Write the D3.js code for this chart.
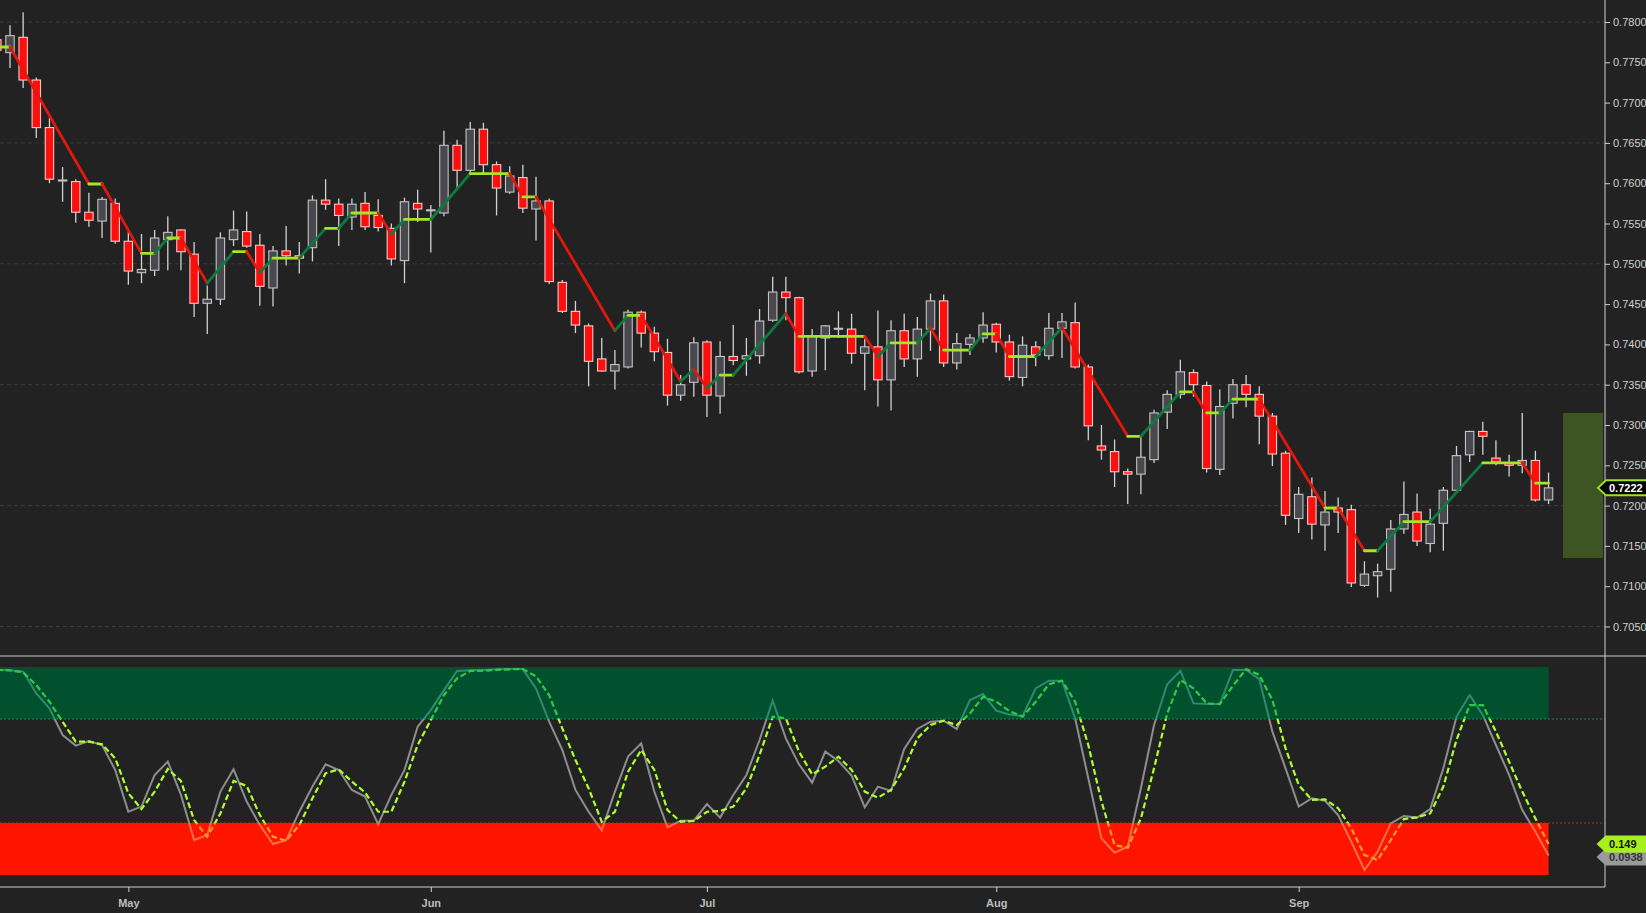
<!DOCTYPE html>
<html><head><meta charset="utf-8">
<script src="https://cdn.jsdelivr.net/npm/d3@7/dist/d3.min.js"></script>
<style>html,body{margin:0;padding:0;background:#222;overflow:hidden}svg{display:block}</style>
</head><body>
<svg id="c" width="1646" height="913"></svg>
<script>
// ---------------- DATA ----------------
const startDate = "2018-04-17";
const endDate = "2018-09-28";
const open  = [0.7778,0.7762,0.7781,0.7728,0.7669,0.7603,0.7602,0.7564,0.7553,0.7575,0.7528,0.7489,0.7492,0.7530,0.7542,0.7512,0.7451,0.7456,0.7530,0.7540,0.7523,0.7470,0.7516,0.7510,0.7520,0.7579,0.7574,0.7558,0.7575,0.7560,0.7544,0.7504,0.7575,0.7566,0.7563,0.7647,0.7616,0.7667,0.7623,0.7589,0.7607,0.7568,0.7578,0.7477,0.7441,0.7423,0.7382,0.7367,0.7372,0.7440,0.7414,0.7390,0.7337,0.7353,0.7403,0.7336,0.7385,0.7382,0.7386,0.7430,0.7465,0.7458,0.7367,0.7408,0.7419,0.7419,0.7389,0.7397,0.7356,0.7417,0.7382,0.7419,0.7454,0.7377,0.7400,0.7408,0.7425,0.7403,0.7359,0.7397,0.7386,0.7420,0.7427,0.7372,0.7274,0.7267,0.7242,0.7239,0.7257,0.7316,0.7338,0.7365,0.7349,0.7245,0.7327,0.7350,0.7338,0.7311,0.7265,0.7184,0.7211,0.7176,0.7197,0.7195,0.7101,0.7113,0.7121,0.7171,0.7192,0.7153,0.7178,0.7219,0.7263,0.7292,0.7259,0.7253,0.7250,0.7256,0.7207];
const high  = [0.7786,0.7796,0.7812,0.7731,0.7681,0.7620,0.7605,0.7588,0.7583,0.7581,0.7540,0.7537,0.7542,0.7559,0.7543,0.7527,0.7473,0.7539,0.7566,0.7565,0.7537,0.7522,0.7547,0.7527,0.7585,0.7605,0.7581,0.7581,0.7589,0.7580,0.7550,0.7582,0.7592,0.7573,0.7665,0.7654,0.7676,0.7675,0.7627,0.7621,0.7623,0.7608,0.7581,0.7480,0.7454,0.7426,0.7408,0.7393,0.7443,0.7442,0.7422,0.7407,0.7362,0.7409,0.7405,0.7404,0.7424,0.7408,0.7444,0.7484,0.7484,0.7459,0.7419,0.7424,0.7441,0.7438,0.7407,0.7442,0.7430,0.7438,0.7434,0.7463,0.7462,0.7414,0.7413,0.7440,0.7427,0.7412,0.7410,0.7404,0.7439,0.7439,0.7452,0.7375,0.7300,0.7282,0.7246,0.7285,0.7319,0.7343,0.7381,0.7369,0.7354,0.7344,0.7357,0.7362,0.7348,0.7315,0.7268,0.7223,0.7235,0.7218,0.7210,0.7201,0.7131,0.7128,0.7182,0.7230,0.7215,0.7196,0.7223,0.7274,0.7293,0.7304,0.7281,0.7263,0.7315,0.7268,0.7241];
const low   = [0.7755,0.7743,0.7718,0.7656,0.7600,0.7577,0.7551,0.7546,0.7532,0.7525,0.7474,0.7476,0.7485,0.7492,0.7492,0.7434,0.7413,0.7449,0.7522,0.7520,0.7448,0.7447,0.7498,0.7488,0.7503,0.7567,0.7522,0.7542,0.7542,0.7540,0.7498,0.7476,0.7552,0.7514,0.7559,0.7594,0.7612,0.7612,0.7560,0.7587,0.7563,0.7529,0.7475,0.7439,0.7414,0.7348,0.7366,0.7344,0.7370,0.7396,0.7379,0.7324,0.7330,0.7335,0.7310,0.7314,0.7374,0.7361,0.7376,0.7428,0.7430,0.7364,0.7360,0.7368,0.7408,0.7376,0.7343,0.7323,0.7318,0.7372,0.7360,0.7392,0.7372,0.7369,0.7387,0.7402,0.7390,0.7355,0.7348,0.7373,0.7381,0.7383,0.7370,0.7281,0.7257,0.7223,0.7202,0.7214,0.7253,0.7295,0.7333,0.7335,0.7241,0.7238,0.7308,0.7322,0.7276,0.7249,0.7176,0.7166,0.7158,0.7144,0.7166,0.7099,0.7099,0.7086,0.7093,0.7165,0.7150,0.7142,0.7144,0.7218,0.7254,0.7263,0.7250,0.7236,0.7240,0.7205,0.7202];
const close = [0.7765,0.7783,0.7728,0.7669,0.7605,0.7604,0.7564,0.7554,0.7580,0.7528,0.7491,0.7493,0.7532,0.7539,0.7515,0.7451,0.7456,0.7532,0.7542,0.7522,0.7472,0.7516,0.7510,0.7507,0.7579,0.7574,0.7560,0.7574,0.7546,0.7545,0.7506,0.7577,0.7568,0.7567,0.7647,0.7616,0.7667,0.7623,0.7594,0.7609,0.7569,0.7578,0.7478,0.7441,0.7424,0.7379,0.7367,0.7375,0.7440,0.7414,0.7391,0.7337,0.7350,0.7402,0.7337,0.7385,0.7380,0.7386,0.7429,0.7465,0.7458,0.7366,0.7410,0.7423,0.7420,0.7389,0.7397,0.7356,0.7417,0.7382,0.7419,0.7454,0.7377,0.7401,0.7408,0.7424,0.7403,0.7360,0.7399,0.7387,0.7420,0.7428,0.7372,0.7299,0.7269,0.7242,0.7239,0.7260,0.7315,0.7338,0.7366,0.7350,0.7246,0.7323,0.7350,0.7338,0.7311,0.7264,0.7188,0.7214,0.7177,0.7192,0.7192,0.7104,0.7115,0.7118,0.7171,0.7189,0.7156,0.7177,0.7219,0.7262,0.7292,0.7286,0.7254,0.7250,0.7256,0.7207,0.7222];
const stochK = [0.986,0.984,0.978,0.873,0.801,0.673,0.622,0.644,0.625,0.505,0.304,0.329,0.481,0.545,0.385,0.168,0.192,0.401,0.508,0.353,0.240,0.149,0.168,0.304,0.425,0.532,0.505,0.409,0.377,0.244,0.385,0.505,0.713,0.793,0.889,0.981,0.984,0.986,0.989,0.990,0.990,0.897,0.737,0.601,0.409,0.304,0.215,0.401,0.569,0.633,0.401,0.229,0.261,0.261,0.341,0.276,0.385,0.481,0.649,0.838,0.657,0.532,0.444,0.593,0.548,0.478,0.325,0.425,0.404,0.606,0.702,0.737,0.742,0.702,0.841,0.870,0.790,0.772,0.764,0.897,0.934,0.934,0.753,0.465,0.176,0.107,0.136,0.417,0.721,0.917,0.982,0.825,0.822,0.822,0.986,0.986,0.942,0.689,0.513,0.329,0.369,0.357,0.288,0.160,0.024,0.112,0.248,0.284,0.276,0.317,0.513,0.761,0.865,0.769,0.625,0.481,0.312,0.208,0.0938];
const stochD = [0.986,0.984,0.974,0.913,0.833,0.737,0.641,0.641,0.628,0.561,0.393,0.317,0.401,0.510,0.452,0.264,0.184,0.296,0.452,0.428,0.288,0.184,0.165,0.240,0.369,0.489,0.508,0.449,0.397,0.304,0.304,0.449,0.625,0.745,0.865,0.946,0.981,0.982,0.986,0.989,0.990,0.955,0.865,0.705,0.553,0.417,0.256,0.304,0.497,0.601,0.505,0.312,0.256,0.260,0.304,0.308,0.329,0.417,0.577,0.761,0.753,0.593,0.484,0.521,0.569,0.505,0.401,0.372,0.409,0.513,0.657,0.721,0.742,0.721,0.777,0.857,0.833,0.788,0.761,0.833,0.917,0.934,0.833,0.625,0.353,0.144,0.131,0.272,0.513,0.777,0.938,0.897,0.825,0.822,0.910,0.990,0.962,0.841,0.609,0.433,0.361,0.364,0.321,0.224,0.096,0.072,0.168,0.269,0.277,0.296,0.425,0.649,0.817,0.817,0.689,0.545,0.401,0.272,0.149];
const trendBar = [0,1,7,8,11,12,13,14,16,18,19,20,21,23,25,26,27,29,30,31,33,36,39,40,41,47,48,49,52,53,54,55,56,60,61,66,67,68,70,71,72,74,75,76,77,79,81,86,87,90,91,92,93,94,96,101,102,104,105,107,109,113,116,117,118];
const trendVal = [0.7769,0.7769,0.7599,0.7599,0.7513,0.7513,0.7532,0.7532,0.7476,0.7515,0.7515,0.7489,0.7507,0.7507,0.7544,0.7544,0.7563,0.7563,0.7537,0.7555,0.7555,0.7612,0.7612,0.7583,0.7583,0.7417,0.7436,0.7436,0.7354,0.7369,0.7346,0.7362,0.7362,0.7438,0.7410,0.7410,0.7385,0.7402,0.7402,0.7420,0.7393,0.7393,0.7413,0.7413,0.7385,0.7385,0.7421,0.7286,0.7286,0.7341,0.7341,0.7315,0.7315,0.7332,0.7332,0.7197,0.7197,0.7144,0.7144,0.7180,0.7180,0.7253,0.7253,0.7228,0.7228];
const priceTicks = [0.705,0.710,0.715,0.720,0.725,0.730,0.735,0.740,0.745,0.750,0.755,0.760,0.765,0.770,0.775,0.780];
const gridPrices = [0.705,0.720,0.735,0.750,0.765,0.780];
const stochLevels = [0.25, 0.75];
const rangeBox = [0.7135, 0.7315];

// ---------------- SETUP ----------------
const W = 1646, H = 913, AX = 1605, SEP = 656, BOT = 887;
const svg = d3.select("#c");
const dates = d3.timeDay.range(d3.timeParse("%Y-%m-%d")(startDate), d3.timeDay.offset(d3.timeParse("%Y-%m-%d")(endDate), 1)).filter(d => d.getDay() !== 0 && d.getDay() !== 6);
const n = close.length;
const last = n - 1;

const x = d3.scaleLinear().domain([1, last]).range([10, 10 + (last - 1) * 13.15]);
const yP = d3.scaleLinear().domain([0.705, 0.780]).range([626.5, 22]);
const yI = d3.scaleLinear().domain([0, 1]).range([875, 667]);

svg.append("rect").attr("width", W).attr("height", H).attr("fill", "#222");

const defs = svg.append("defs");
defs.append("clipPath").attr("id", "cp").append("rect").attr("x", 0).attr("y", 0).attr("width", AX).attr("height", SEP);
defs.append("clipPath").attr("id", "ci").append("rect").attr("x", 0).attr("y", SEP + 1).attr("width", AX).attr("height", BOT - SEP - 1);
const zoneClips = [
  {id: "zTop", y0: SEP, y1: yI(stochLevels[1])},
  {id: "zMid", y0: yI(stochLevels[1]), y1: yI(stochLevels[0])},
  {id: "zBot", y0: yI(stochLevels[0]), y1: BOT}
];
zoneClips.forEach(z => defs.append("clipPath").attr("id", z.id).append("rect").attr("x", 0).attr("y", z.y0).attr("width", AX).attr("height", z.y1 - z.y0));

// ---------------- PRICE PANEL ----------------
const gp = svg.append("g").attr("clip-path", "url(#cp)");
gp.selectAll("line.grid").data(gridPrices).join("line")
  .attr("x1", 0).attr("x2", AX).attr("y1", d => yP(d)).attr("y2", d => yP(d))
  .attr("stroke", "#3a3a3a").attr("stroke-width", 1).attr("stroke-dasharray", "4,3");

gp.append("rect").attr("x", 1563).attr("width", 40)
  .attr("y", yP(rangeBox[1])).attr("height", yP(rangeBox[0]) - yP(rangeBox[1]))
  .attr("fill", "#3c5522");

const idx = d3.range(n);
const bw = 8.4;
gp.selectAll("line.wick").data(idx).join("line")
  .attr("x1", i => x(i)).attr("x2", i => x(i))
  .attr("y1", i => yP(high[i])).attr("y2", i => yP(low[i]))
  .attr("stroke", "#d2d2d2").attr("stroke-width", 1.3);
gp.selectAll("rect.body").data(idx).join("rect")
  .attr("x", i => x(i) - bw / 2).attr("width", bw)
  .attr("y", i => yP(Math.max(open[i], close[i])))
  .attr("height", i => Math.max(1, Math.abs(yP(open[i]) - yP(close[i]))))
  .attr("fill", i => close[i] < open[i] ? "#ff0e0e" : "#48484e")
  .attr("stroke", i => close[i] < open[i] ? "#f4c8c8" : "#c4c4c4")
  .attr("stroke-width", 1.1);

const segs = d3.range(trendBar.length - 1).map(j => ({a: j, b: j + 1}));
gp.selectAll("line.trend").data(segs).join("line")
  .attr("x1", s => x(trendBar[s.a])).attr("y1", s => yP(trendVal[s.a]))
  .attr("x2", s => x(trendBar[s.b])).attr("y2", s => yP(trendVal[s.b]))
  .attr("stroke", s => trendVal[s.b] === trendVal[s.a] ? "#a4e52a" : (trendVal[s.b] < trendVal[s.a] ? "#e3170d" : "#0d7a40"))
  .attr("stroke-width", 2.8).attr("stroke-linecap", "round");

// ---------------- INDICATOR PANEL ----------------
const gi = svg.append("g").attr("clip-path", "url(#ci)");
gi.append("rect").attr("x", 0).attr("width", x(last))
  .attr("y", yI(1)).attr("height", yI(stochLevels[1]) - yI(1)).attr("fill", "#02512e");
gi.append("rect").attr("x", 0).attr("width", x(last))
  .attr("y", yI(stochLevels[0])).attr("height", yI(0) - yI(stochLevels[0])).attr("fill", "#fe1500");
gi.selectAll("line.lvl").data(stochLevels).join("line")
  .attr("x1", 0).attr("x2", AX).attr("y1", d => yI(d)).attr("y2", d => yI(d))
  .attr("stroke", d => d > 0.5 ? "#1f8a4c" : "#c8281a").attr("stroke-width", 1.2).attr("stroke-dasharray", "2,2");

const lineK = d3.line().x((d, i) => x(i)).y(d => yI(d));
const kColors = {zTop: "#2e8a70", zMid: "#8e8e8e", zBot: "#ff6e44"};
const dColors = {zTop: "#2ecb44", zMid: "#adff2f", zBot: "#ff9a22"};
zoneClips.forEach(z => {
  const g = gi.append("g").attr("clip-path", `url(#${z.id})`);
  g.append("path").datum(stochK).attr("d", lineK).attr("fill", "none")
    .attr("stroke", kColors[z.id]).attr("stroke-width", 2);
  g.append("path").datum(stochD).attr("d", lineK).attr("fill", "none")
    .attr("stroke", dColors[z.id]).attr("stroke-width", 2.2).attr("stroke-dasharray", "6,3");
});

// ---------------- FRAME & AXES ----------------
svg.append("line").attr("x1", 0).attr("x2", W).attr("y1", SEP).attr("y2", SEP).attr("stroke", "#cfcfcf").attr("stroke-width", 1);
svg.append("line").attr("x1", 0).attr("x2", AX).attr("y1", BOT).attr("y2", BOT).attr("stroke", "#cfcfcf").attr("stroke-width", 1);
svg.append("line").attr("x1", AX).attr("x2", AX).attr("y1", 0).attr("y2", BOT).attr("stroke", "#cfcfcf").attr("stroke-width", 1);

const yAxis = d3.axisRight(yP).tickValues(priceTicks).tickFormat(d3.format(".4f")).tickSize(5).tickPadding(3);
const ga = svg.append("g").attr("transform", `translate(${AX},0)`).call(yAxis);
ga.select(".domain").remove();
ga.selectAll("line").attr("stroke", "#cfcfcf");
ga.selectAll("text").attr("fill", "#d0d0d0").style("font", "11px 'Liberation Sans', Arial, sans-serif");

const monthIdx = idx.filter(i => i > 0 && dates[i].getMonth() !== dates[i - 1].getMonth());
const xAxis = d3.axisBottom(x).tickValues(monthIdx).tickFormat(i => d3.timeFormat("%b")(dates[i])).tickSize(5).tickPadding(7);
const gx = svg.append("g").attr("transform", `translate(0,${BOT})`).call(xAxis);
gx.select(".domain").remove();
gx.selectAll("line").attr("stroke", "#cfcfcf");
gx.selectAll("text").attr("fill", "#bdbdbd").style("font", "bold 11px 'Liberation Sans', Arial, sans-serif");

// ---------------- VALUE TAGS ----------------
function tag(yv, txt, fill, stroke, color) {
  const h = 15, tip = 1598, bx = 1606;
  svg.append("path")
    .attr("d", `M${tip},${yv} L${bx},${yv - h / 2} L${W + 2},${yv - h / 2} L${W + 2},${yv + h / 2} L${bx},${yv + h / 2} Z`)
    .attr("fill", fill).attr("stroke", stroke).attr("stroke-width", 2);
  svg.append("text").attr("x", 1609).attr("y", yv + 4).text(txt)
    .attr("fill", color).style("font", "bold 11px 'Liberation Sans', Arial, sans-serif");
}
tag(yP(close[last]), d3.format(".4f")(close[last]), "#000", "#9be31f", "#fff");
tag(yI(stochK[last]) + 1.5, d3.format(".3r")(stochK[last]), "#9a9a9a", "#9a9a9a", "#333");
tag(yI(stochD[last]), d3.format(".3r")(stochD[last]), "#a6f01e", "#a6f01e", "#111");
</script>
</body></html>
